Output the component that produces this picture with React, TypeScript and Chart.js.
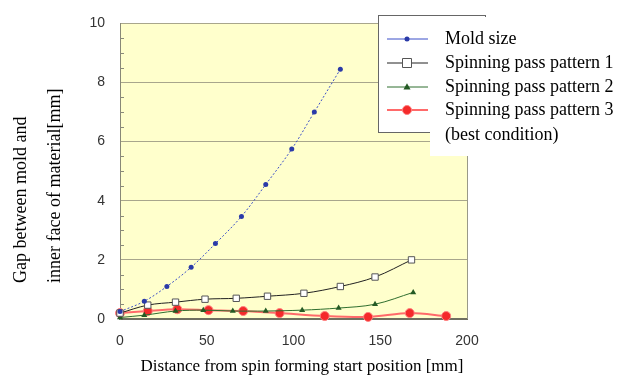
import React, { useEffect, useRef } from "react";
import { Chart, registerables } from "chart.js";

Chart.register(...registerables);

const moldX = [0, 14, 27, 41, 55, 70, 84, 99, 112, 127];
const moldY = [0.25, 0.6, 1.1, 1.75, 2.55, 3.47, 4.55, 5.75, 7.0, 8.45];
const p1X = [0, 16, 32, 49, 67, 85, 106, 127, 147, 168];
const p1Y = [0.2, 0.47, 0.57, 0.67, 0.7, 0.77, 0.87, 1.1, 1.42, 2.0];
const p2X = [0, 14, 32, 48, 65, 84, 105, 126, 147, 169];
const p2Y = [0.05, 0.13, 0.27, 0.3, 0.27, 0.27, 0.3, 0.37, 0.5, 0.9];
const p3X = [0, 16, 33, 51, 71, 92, 118, 143, 167, 188];
const p3Y = [0.2, 0.27, 0.33, 0.3, 0.27, 0.2, 0.1, 0.07, 0.2, 0.1];

const xTicks = [0, 50, 100, 150, 200];
const yTicks = [0, 2, 4, 6, 8, 10];

const legendLabels = [
  ["Mold size"],
  ["Spinning pass pattern 1"],
  ["Spinning pass pattern 2"],
  ["Spinning pass pattern 3", "(best condition)"],
];
const yTitle = ["Gap between mold and", "inner face of material[mm]"];
const xTitle = "Distance from spin forming start position [mm]";

const pts = (xs: number[], ys: number[]) => xs.map((x, i) => ({ x, y: ys[i] }));

const SERIF = "'Liberation Serif', 'Times New Roman', serif";

const customPlugin = {
  id: "custom",
  beforeDatasetsDraw(chart: any) {
    const { ctx, chartArea: a, scales } = chart;
    ctx.save();
    ctx.strokeStyle = "#8a8a7a";
    ctx.lineWidth = 1;
    for (let k = 1; k < 20; k++) {
      if (k % 4 === 0) continue;
      const y = Math.round(scales.y.getPixelForValue(k * 0.5)) + 0.5;
      ctx.beginPath();
      ctx.moveTo(a.left, y);
      ctx.lineTo(a.left + 4, y);
      ctx.stroke();
    }
    ctx.strokeStyle = "#999988";
    ctx.beginPath();
    ctx.moveTo(Math.round(a.right) + 0.5, a.top);
    ctx.lineTo(Math.round(a.right) + 0.5, a.bottom);
    ctx.stroke();
    ctx.restore();
  },
  beforeDraw(chart: any) {
    const { ctx, chartArea: a } = chart;
    ctx.save();
    ctx.fillStyle = "#ffffcc";
    ctx.fillRect(a.left, a.top, a.right - a.left, a.bottom - a.top);
    ctx.restore();
  },
  afterDraw(chart: any) {
    const { ctx } = chart;
    ctx.save();
    ctx.fillStyle = "#000";
    ctx.font = `18px ${SERIF}`;
    ctx.textBaseline = "middle";
    ctx.textAlign = "left";
    const xs = [21, 55];
    yTitle.forEach((t, i) => {
      ctx.save();
      ctx.translate(xs[i], 283);
      ctx.rotate(-Math.PI / 2);
      ctx.fillText(t, 0, 0);
      ctx.restore();
    });
    ctx.font = `17px ${SERIF}`;
    ctx.textAlign = "center";
    ctx.fillText(xTitle, 302, 367);

    ctx.fillStyle = "#fff";
    ctx.fillRect(378, 15, 107, 117);
    ctx.strokeStyle = "#666";
    ctx.lineWidth = 1;
    ctx.strokeRect(378.5, 15.5, 107, 117);
    ctx.fillStyle = "#fff";
    ctx.fillRect(430, 17, 191, 139);

    const rows = [39, 63, 87, 110];
    chart.data.datasets.forEach((ds: any, i: number) => {
      const y = rows[i];
      ctx.save();
      ctx.strokeStyle = ds.borderColor;
      ctx.lineWidth = ds.borderWidth;
      ctx.beginPath();
      ctx.moveTo(387, y);
      ctx.lineTo(428, y);
      ctx.stroke();
      ctx.restore();
      ctx.save();
      ctx.fillStyle = ds.pointBackgroundColor;
      ctx.strokeStyle = ds.pointBorderColor;
      ctx.lineWidth = ds.pointBorderWidth;
      const cx = 407;
      const r = ds.pointRadius;
      ctx.beginPath();
      if (ds.pointStyle === "rect") {
        ctx.rect(cx - r, y - r, 2 * r, 2 * r);
      } else if (ds.pointStyle === "triangle") {
        ctx.moveTo(cx, y - r * 1.1);
        ctx.lineTo(cx + r, y + r * 0.7);
        ctx.lineTo(cx - r, y + r * 0.7);
        ctx.closePath();
      } else {
        ctx.arc(cx, y, r, 0, Math.PI * 2);
      }
      ctx.fill();
      if (ds.pointBorderWidth > 0) ctx.stroke();
      ctx.restore();
      ctx.fillStyle = "#000";
      ctx.font = `18px ${SERIF}`;
      ctx.textAlign = "left";
      ctx.textBaseline = "middle";
      legendLabels[i].forEach((t, j) => ctx.fillText(t, 445, y + j * 25));
    });
    ctx.restore();
  },
};

export default function App() {
  const ref = useRef<HTMLCanvasElement | null>(null);
  useEffect(() => {
    document.body.style.margin = "0";
    const canvas = ref.current!;
    const chart = new Chart(canvas, {
      type: "line",
      data: {
        datasets: [
          {
            label: "Mold size",
            data: pts(moldX, moldY),
            borderColor: "#3b4fc8",
            borderWidth: 1,
            borderDash: [2, 2],
            pointStyle: "circle",
            pointRadius: 2.5,
            pointBackgroundColor: "#2a3aa8",
            pointBorderColor: "#2a3aa8",
            pointBorderWidth: 0,
            tension: 0.35,
          },
          {
            label: "Spinning pass pattern 1",
            data: pts(p1X, p1Y),
            borderColor: "#222",
            borderWidth: 1,
            pointStyle: "rect",
            pointRadius: 4.5,
            pointBackgroundColor: "#fff",
            pointBorderColor: "#555",
            pointBorderWidth: 1,
            tension: 0.35,
          },
          {
            label: "Spinning pass pattern 2",
            data: pts(p2X, p2Y),
            borderColor: "#2f6e2f",
            borderWidth: 1,
            pointStyle: "triangle",
            pointRadius: 3.5,
            pointBackgroundColor: "#245a24",
            pointBorderColor: "#245a24",
            pointBorderWidth: 0,
            tension: 0.35,
          },
          {
            label: "Spinning pass pattern 3",
            data: pts(p3X, p3Y),
            borderColor: "#ff6a6a",
            borderWidth: 2,
            pointStyle: "circle",
            pointRadius: 4.5,
            pointBackgroundColor: "#f42a2a",
            pointBorderColor: "#ff8080",
            pointBorderWidth: 1,
            tension: 0.3,
          },
        ] as any,
      },
      options: {
        animation: false,
        responsive: false,
        clip: false as any,
        layout: { padding: { left: 0, top: 22, right: 154, bottom: 0 } },
        plugins: { legend: { display: false }, tooltip: { enabled: false } },
        scales: {
          x: {
            type: "linear",
            min: 0,
            max: 200,
            afterBuildTicks: (s: any) => {
              s.ticks = xTicks.map((v) => ({ value: v }));
            },
            afterFit: (s: any) => {
              s.height = 60;
            },
            grid: { display: false, drawTicks: false },
            border: { display: true, color: "#6f6f60", width: 2 },
            ticks: {
              padding: 14,
              color: "#333",
              font: { family: "'Liberation Sans', Arial, sans-serif", size: 14 },
            },
          },
          y: {
            type: "linear",
            min: 0,
            max: 10,
            afterBuildTicks: (s: any) => {
              s.ticks = yTicks.map((v) => ({ value: v }));
            },
            afterFit: (s: any) => {
              s.width = 120;
            },
            grid: { color: "#a8a68c", lineWidth: 1, drawTicks: false },
            border: { display: true, color: "#888877", width: 1 },
            ticks: {
              padding: 15,
              color: "#333",
              font: { family: "'Liberation Sans', Arial, sans-serif", size: 14 },
            },
          },
        },
      },
      plugins: [customPlugin],
    });
    return () => chart.destroy();
  }, []);
  return <canvas ref={ref} width={621} height={379} style={{ display: "block" }} />;
}
